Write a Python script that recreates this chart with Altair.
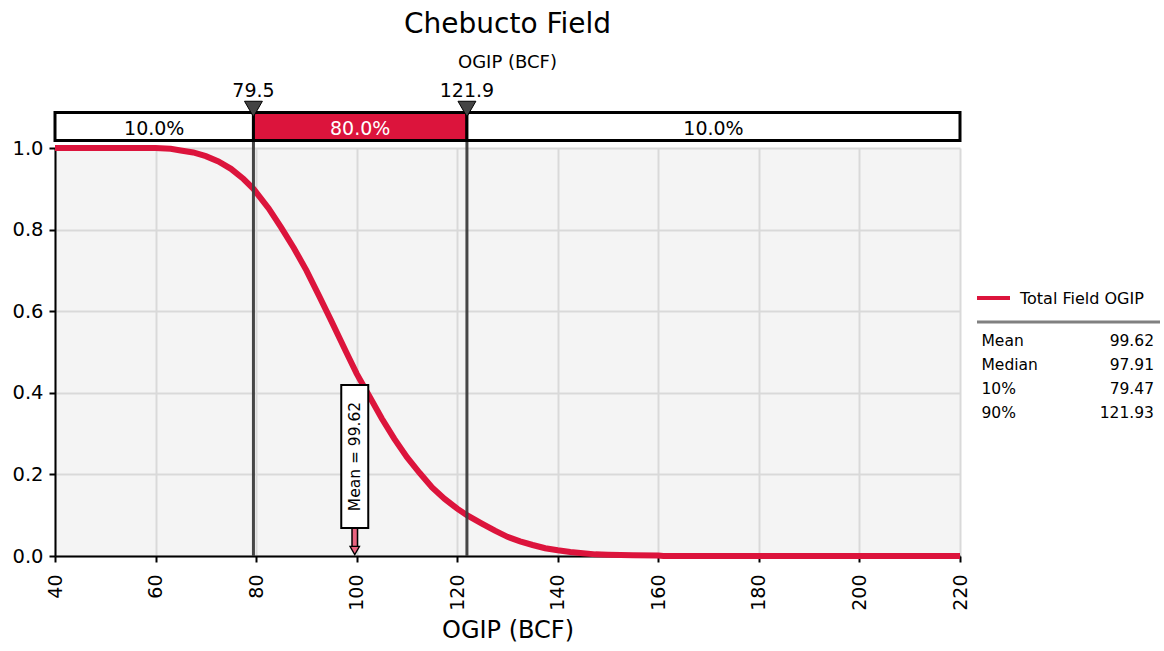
import altair as alt
import pandas as pd

# Descending cumulative curve for total field OGIP (probability of exceeding)
ogip = [40, 60, 63, 65, 67.5, 70, 72.5, 75, 77.5, 79.47, 82.5, 85, 87.5, 90, 92.5,
        95, 97.91, 100, 102.5, 105, 107.5, 110, 112.5, 115, 117.5, 120, 121.93, 125,
        127.5, 130, 132.5, 135, 137.5, 140, 142.5, 145, 147.5, 150, 155, 160, 161, 220]
prob = [1.0, 1.0, 0.998, 0.994, 0.989, 0.980, 0.967, 0.949, 0.924, 0.900, 0.852,
        0.805, 0.755, 0.700, 0.638, 0.575, 0.500, 0.447, 0.392, 0.337, 0.287,
        0.242, 0.204, 0.168, 0.140, 0.116, 0.100, 0.079, 0.062, 0.047, 0.036, 0.027,
        0.019, 0.014, 0.010, 0.007, 0.004, 0.003, 0.002, 0.001, 0.0, 0.0]

# Percentile markers and the probability band above the plot
marker_vals = [79.47, 121.93]
marker_labels = ["79.5", "121.9"]
band_lo = [40, 79.47, 121.93]
band_hi = [79.47, 121.93, 220]
band_pct = ["10.0%", "80.0%", "10.0%"]
mean_val = 99.62
mean_label = "Mean = 99.62"

# Summary statistics table
stat_names = ["Mean", "Median", "10%", "90%"]
stat_values = ["99.62", "97.91", "79.47", "121.93"]
series_name = "Total Field OGIP"

x_ticks = [40, 60, 80, 100, 120, 140, 160, 180, 200, 220]
y_ticks = [0.0, 0.2, 0.4, 0.6, 0.8, 1.0]

W, H = 905, 408
FONT = "DejaVu Sans"
RED = "#DC143C"
PINK = "#E8637F"
DARK = "#3c3c3c"

xs = alt.Scale(domain=[40, 220], nice=False, zero=False)
ys = alt.Scale(domain=[0, 1], nice=False)

curve_df = pd.DataFrame({"ogip": ogip, "prob": prob})
curve = alt.Chart(curve_df).mark_line(color=RED, strokeWidth=6).encode(
    x=alt.X("ogip:Q", scale=xs, axis=alt.Axis(
        values=x_ticks, labelAngle=270, title="OGIP (BCF)", format="d",
        labelPadding=12, titlePadding=8)),
    y=alt.Y("prob:Q", scale=ys, axis=alt.Axis(
        values=y_ticks, format=".1f", title=None, labelPadding=6,
        labelFontSize=19.5)),
)

band_df = pd.DataFrame({"lo": band_lo, "hi": band_hi, "pct": band_pct})
band = alt.Chart(band_df).mark_rect(stroke="black", strokeWidth=3).encode(
    x="lo:Q", x2="hi:Q",
    y=alt.value(-35.5), y2=alt.value(-7.5),
    fill=alt.condition("datum.lo == 79.47", alt.value(RED), alt.value("white")),
)
band_text = alt.Chart(band_df).transform_calculate(
    mid="(datum.lo + datum.hi) / 2"
).mark_text(font=FONT, fontSize=19, baseline="alphabetic").encode(
    x="mid:Q", y=alt.value(-13), text="pct:N",
    color=alt.condition("datum.lo == 79.47", alt.value("white"), alt.value("black")),
)

mk_df = pd.DataFrame({"v": marker_vals, "lab": marker_labels})
mk_rules = alt.Chart(mk_df).mark_rule(color=DARK, strokeWidth=3, opacity=0.95).encode(
    x="v:Q", y=alt.value(-36), y2=alt.value(H))
mk_tri = alt.Chart(mk_df).mark_point(
    shape="triangle-down", filled=True, size=320, fill="#444444",
    stroke="black", strokeWidth=1, opacity=1).encode(
    x="v:Q", y=alt.value(-39))
mk_text = alt.Chart(mk_df).mark_text(font=FONT, fontSize=19, baseline="alphabetic").encode(
    x="v:Q", y=alt.value(-51), text="lab:N")

mean_df = pd.DataFrame({"m": [mean_val], "lab": [mean_label]})
mean_shaft_out = alt.Chart(mean_df).mark_rule(color="black", strokeWidth=7).encode(
    x="m:Q", y=alt.value(380), y2=alt.value(399))
mean_shaft_in = alt.Chart(mean_df).mark_rule(color=PINK, strokeWidth=4).encode(
    x="m:Q", y=alt.value(380), y2=alt.value(401))
mean_head = alt.Chart(mean_df).mark_point(
    shape="triangle-down", filled=True, size=90, fill=PINK,
    stroke="black", strokeWidth=1.3, opacity=1).encode(
    x="m:Q", y=alt.value(402.5))
mean_box = alt.Chart(mean_df).mark_rect(
    width=27, fill="white", stroke="black", strokeWidth=2).encode(
    x="m:Q", y=alt.value(237), y2=alt.value(380))
mean_text = alt.Chart(mean_df).mark_text(
    font=FONT, fontSize=15.5, angle=270, align="center", baseline="middle").encode(
    x="m:Q", y=alt.value(308.5), text="lab:N")

# Chart title and subtitle
title_df = pd.DataFrame({"t": ["Chebucto Field"], "s": ["OGIP (BCF)"]})
title = alt.Chart(title_df).mark_text(font=FONT, fontSize=28, baseline="alphabetic").encode(
    x=alt.value(W / 2), y=alt.value(-115), text="t:N")
subtitle = alt.Chart(title_df).mark_text(font=FONT, fontSize=18, baseline="alphabetic").encode(
    x=alt.value(W / 2), y=alt.value(-80), text="s:N")

# Legend with series swatch and statistics
leg_df = pd.DataFrame({"name": [series_name]})
leg_line = alt.Chart(leg_df).mark_rule(color=RED, strokeWidth=4).encode(
    x=alt.value(922), x2=alt.value(955), y=alt.value(150))
leg_text = alt.Chart(leg_df).mark_text(font=FONT, fontSize=16, align="left",
                                       baseline="alphabetic").encode(
    x=alt.value(965), y=alt.value(156), text="name:N")
leg_sep = alt.Chart(leg_df).mark_rule(color="#808080", strokeWidth=3).encode(
    x=alt.value(922), x2=alt.value(1105), y=alt.value(174))

stat_layers = []
for i, (nm, val) in enumerate(zip(stat_names, stat_values)):
    row = pd.DataFrame({"name": [nm], "val": [val]})
    yb = 198 + 24 * i
    stat_layers.append(alt.Chart(row).mark_text(
        font=FONT, fontSize=15.5, align="left", baseline="alphabetic").encode(
        x=alt.value(926.5), y=alt.value(yb), text="name:N"))
    stat_layers.append(alt.Chart(row).mark_text(
        font=FONT, fontSize=15.5, align="right", baseline="alphabetic").encode(
        x=alt.value(1099), y=alt.value(yb), text="val:N"))

chart = alt.layer(
    curve, mk_rules, band, band_text, mk_tri, mk_text,
    mean_shaft_out, mean_shaft_in, mean_head, mean_box, mean_text,
    title, subtitle, leg_line, leg_text, leg_sep, *stat_layers
).properties(
    width=W, height=H,
    autosize=alt.AutoSizeParams(type="none"),
    padding={"left": 55, "top": 148, "right": 1164 - 55 - W, "bottom": 651 - 148 - H},
    background="white",
).configure_view(
    fill="#f4f4f4", stroke="transparent"
).configure_axis(
    domainColor="black", domainWidth=2, tickColor="black", tickWidth=2, tickSize=6,
    labelFont=FONT, labelFontSize=19, labelColor="black",
    titleFont=FONT, titleFontSize=24, titleFontWeight="normal", titleColor="black",
    gridColor="#d9d9d9", gridWidth=2,
)

chart.save("out.html", embed_options={"renderer": "svg", "actions": False})
